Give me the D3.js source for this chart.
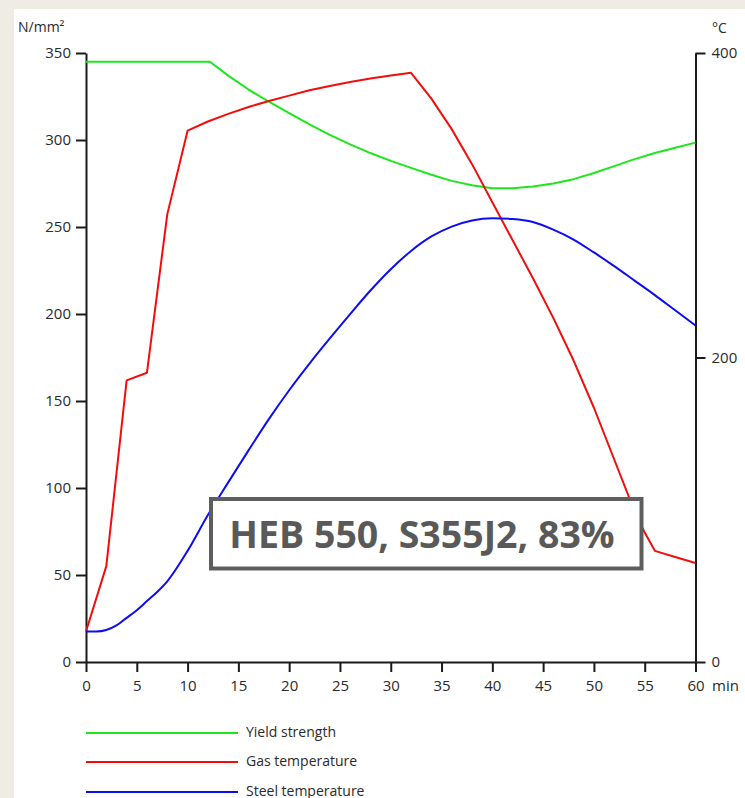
<!DOCTYPE html>
<html>
<head>
<meta charset="utf-8">
<script src="https://cdn.jsdelivr.net/npm/d3@7"></script>
<style>
  html, body { margin: 0; padding: 0; background: #efece4; }
  svg { display: block; }
  text { font-family: "Open Sans", "DejaVu Sans", sans-serif; }
</style>
</head>
<body>
<svg id="chart" width="745" height="798"></svg>
<script>
// ---- Data ----
const yieldTime  = [0, 12.2, 14, 16, 18, 20, 22, 24, 26, 28, 30, 32, 34, 36, 38, 40, 42, 44, 46, 48, 50, 52, 54, 56, 58, 60];
const yieldValue = [345, 345, 337, 329, 322, 315.5, 309, 303, 297.5, 292.5, 288, 284, 280, 276.5, 274, 272.3, 272.3, 273.3, 275, 277.5, 281, 285, 289, 292.5, 295.5, 298.5];

const gasTime  = [0, 2, 4, 6, 8, 10, 12, 14, 16, 18, 20, 22, 24, 26, 28, 30, 32, 34, 36, 38, 40, 42, 44, 46, 48, 50, 52, 54, 55, 56, 58, 60];
const gasValue = [20, 63, 185, 190, 294, 349, 355, 360, 364.5, 368.5, 372, 375.5, 378.3, 381, 383.2, 385.2, 387, 370, 350, 327, 302, 277, 252, 226, 198, 167, 133, 99, 85, 73, 69, 65];

const steelTime  = [0, 1, 2, 3, 4, 5, 6, 7, 8, 10, 12, 14, 16, 18, 20, 22, 24, 26, 28, 30, 32, 34, 36, 38, 40, 42, 44, 46, 48, 50, 52, 54, 56, 58, 60];
const steelValue = [20, 20, 21, 24, 29, 34, 40, 46, 53, 73, 96.5, 118, 139, 159.5, 178.5, 196, 212.5, 228.5, 244, 258, 270, 279.5, 286, 290, 291.5, 291, 289, 284, 277.5, 269, 260, 250.5, 241, 231, 221];

const xTicks      = [0, 5, 10, 15, 20, 25, 30, 35, 40, 45, 50, 55, 60];
const yLeftTicks  = [0, 50, 100, 150, 200, 250, 300, 350];
const yRightTicks = [0, 200, 400];

const legendLabels = ["Yield strength", "Gas temperature", "Steel temperature"];
const seriesColors = ["#1de61d", "#f20d0d", "#0d0df2"];
const boxLabel = "HEB 550, S355J2, 83%";

// ---- Layout ----
const svg = d3.select("#chart");
svg.append("rect").attr("x", 14).attr("y", 9).attr("width", 731).attr("height", 789).attr("fill", "#ffffff");

const x = d3.scaleLinear().domain([0, 60]).range([86, 695.5]);
const yL = d3.scaleLinear().domain([0, 350]).range([662, 53]);
const yR = d3.scaleLinear().domain([0, 400]).range([662, 53]);

const axisColor = "#1a1a1a";
const labelColor = "#2a2a2a";
const tickFont = "15px";

function styleAxis(g) {
  g.selectAll("path.domain").attr("stroke", axisColor).attr("stroke-width", 2);
  g.selectAll(".tick line").attr("stroke", axisColor).attr("stroke-width", 2);
  g.selectAll(".tick text").attr("fill", labelColor).style("font-size", tickFont)
    .style("font-family", '"Open Sans", sans-serif');
}

// X axis
const gx = svg.append("g").attr("transform", "translate(0,662)")
  .call(d3.axisBottom(x).tickValues(xTicks).tickSize(10).tickSizeOuter(0).tickPadding(8));
styleAxis(gx);

// Left axis
const gyl = svg.append("g").attr("transform", "translate(86,0)")
  .call(d3.axisLeft(yL).tickValues(yLeftTicks).tickSize(10).tickSizeOuter(0).tickPadding(5));
styleAxis(gyl);

// Right axis
const gyr = svg.append("g").attr("transform", "translate(695.5,0)")
  .call(d3.axisRight(yR).tickValues(yRightTicks).tickSize(10).tickSizeOuter(0).tickPadding(6));
styleAxis(gyr);

// Unit labels
svg.append("text").attr("x", 18).attr("y", 32).attr("fill", labelColor).style("font-size", "14px").text("N/mm²");
svg.append("text").attr("x", 712).attr("y", 33).attr("fill", labelColor).style("font-size", "14px").text("°C");
svg.append("text").attr("x", 712).attr("y", 662 + 18).attr("dy", "0.71em").attr("fill", labelColor).style("font-size", tickFont).text("min");

// ---- Lines ----
const lines = svg.append("g");

const lineYield = d3.line().x((d, i) => x(yieldTime[i])).y(d => yL(d)).curve(d3.curveLinear);
const lineGas   = d3.line().x((d, i) => x(gasTime[i])).y(d => yR(d)).curve(d3.curveLinear);
const lineSteel = d3.line().x((d, i) => x(steelTime[i])).y(d => yR(d)).curve(d3.curveMonotoneX);

lines.append("path").attr("d", lineYield(yieldValue)).attr("fill", "none").attr("stroke", seriesColors[0]).attr("stroke-width", 2).attr("stroke-linejoin", "round");
lines.append("path").attr("d", lineGas(gasValue)).attr("fill", "none").attr("stroke", seriesColors[1]).attr("stroke-width", 2).attr("stroke-linejoin", "round");
lines.append("path").attr("d", lineSteel(steelValue)).attr("fill", "none").attr("stroke", seriesColors[2]).attr("stroke-width", 2).attr("stroke-linejoin", "round");

// ---- Label box ----
svg.append("rect").attr("x", 211).attr("y", 499).attr("width", 430.5).attr("height", 69.5)
  .attr("fill", "#ffffff").attr("stroke", "#5e5e5e").attr("stroke-width", 4);
svg.append("text").attr("x", 422).attr("y", 548).attr("text-anchor", "middle")
  .attr("fill", "#595959").style("font-size", "37.5px").style("font-weight", "bold").text(boxLabel);

// ---- Legend ----
const legendY = [733, 762, 792];
legendLabels.forEach((lab, i) => {
  svg.append("line").attr("x1", 86).attr("x2", 238).attr("y1", legendY[i]).attr("y2", legendY[i])
    .attr("stroke", seriesColors[i]).attr("stroke-width", 2);
  svg.append("text").attr("x", 246).attr("y", legendY[i] + 4).attr("fill", labelColor)
    .style("font-size", "14px").text(lab);
});
</script>
</body>
</html>
